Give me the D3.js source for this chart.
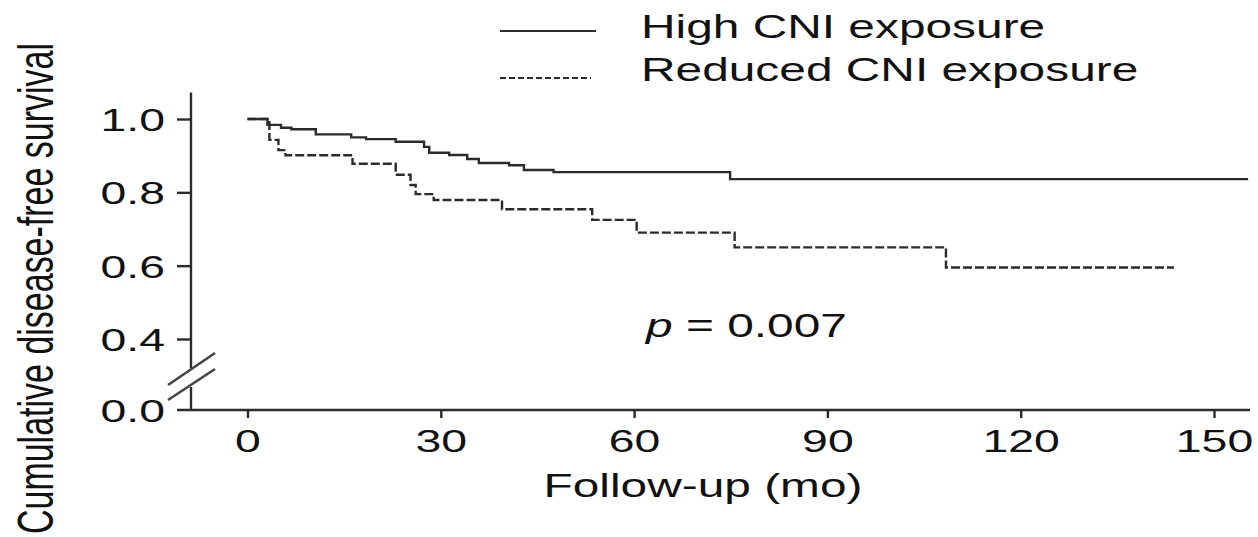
<!DOCTYPE html>
<html>
<head>
<meta charset="utf-8">
<script src="https://cdn.jsdelivr.net/npm/d3@7"></script>
<style>
  html, body { margin: 0; padding: 0; background: #fff; }
  svg { display: block; }
  text { font-family: "Liberation Sans", Arial, Helvetica, sans-serif; fill: #111; }
</style>
</head>
<body>
<svg id="chart" width="1258" height="537"></svg>
<script>
// Kaplan–Meier step data (months, survival proportion)
const highTimes = [0, 3.1, 5.2, 6.8, 10.6, 16.1, 18.4, 23.0, 27.4, 28.2, 31.3, 34.1, 35.9, 40.6, 42.9, 47.5, 74.9];
const highSurv  = [1.0, 0.984, 0.976, 0.972, 0.958, 0.950, 0.945, 0.938, 0.924, 0.908, 0.902, 0.891, 0.880, 0.874, 0.861, 0.855, 0.836];
const highEnd = 155.3;

const reducedTimes = [0, 3.4, 4.8, 5.9, 16.3, 23.0, 25.3, 26.1, 28.9, 39.5, 53.5, 60.4, 75.6, 108.4];
const reducedSurv  = [1.0, 0.943, 0.915, 0.901, 0.878, 0.848, 0.820, 0.795, 0.779, 0.754, 0.725, 0.690, 0.650, 0.595];
const reducedEnd = 143.8;

const xTicks = [0, 30, 60, 90, 120, 150];
const yTicks = [0.4, 0.6, 0.8, 1.0];
const yLowTicks = [0.0];

const seriesNames = ["High CNI exposure", "Reduced CNI exposure"];
const pLabel = "0.007";

const SX = 1.45;          // horizontal glyph stretch
const ink = "#2b2b2b";

const svg = d3.select("#chart");

// scales
const x = d3.scaleLinear().domain([0, 150]).range([247.5, 1214]);
const y = d3.scaleLinear().domain([0.4, 1.0]).range([339, 119]);
// lower stub below the axis break
const yLow = d3.scaleLinear().domain([0, 0.4]).range([410, 339]);

const axisX = 191;
const yTop = y(1.072);
const breakUpper = 368, breakLower = 387;

function stretchText(sel) {
  sel.each(function () {
    const t = d3.select(this);
    const xv = +t.attr("x") || 0;
    t.attr("x", xv / SX).attr("transform", `scale(${SX},1)`);
  });
}

// y axis line (broken)
svg.append("line").attr("x1", axisX).attr("x2", axisX).attr("y1", yTop).attr("y2", breakUpper)
  .attr("stroke", ink).attr("stroke-width", 2.4);
svg.append("line").attr("x1", axisX).attr("x2", axisX).attr("y1", breakLower).attr("y2", yLow(0))
  .attr("stroke", ink).attr("stroke-width", 2.4);

// break marks
[[168, 385, 215, 353], [168, 400, 215, 369]].forEach(([x1, y1, x2, y2]) => {
  svg.append("line").attr("x1", x1).attr("y1", y1).attr("x2", x2).attr("y2", y2)
    .attr("stroke", "#444").attr("stroke-width", 2.6);
});

// y ticks
const yAxisG = svg.append("g").attr("transform", `translate(${axisX},0)`)
  .call(d3.axisLeft(y).tickValues(yTicks).tickSize(14).tickFormat(d3.format(".1f")));
yAxisG.select(".domain").remove();
yAxisG.selectAll(".tick line").attr("stroke", ink).attr("stroke-width", 2.4);
yAxisG.selectAll(".tick text").attr("x", -26).attr("dy", "0.36em")
  .style("font-size", "32px").style("fill", "#111").call(stretchText);

// lower label (0.0) sits on the x axis line
const yLowG = svg.append("g").attr("transform", `translate(${axisX},0)`)
  .call(d3.axisLeft(yLow).tickValues(yLowTicks).tickSize(0).tickFormat(d3.format(".1f")));
yLowG.select(".domain").remove();
yLowG.selectAll(".tick text").attr("x", -26).attr("dy", "0.36em")
  .style("font-size", "32px").style("fill", "#111").call(stretchText);

// x axis
svg.append("line").attr("x1", 177).attr("x2", 1250).attr("y1", yLow(0)).attr("y2", yLow(0))
  .attr("stroke", ink).attr("stroke-width", 2.4);
const xAxisG = svg.append("g").attr("transform", `translate(0,${yLow(0)})`)
  .call(d3.axisBottom(x).tickValues(xTicks).tickSize(8));
xAxisG.select(".domain").remove();
xAxisG.selectAll(".tick line").attr("stroke", ink).attr("stroke-width", 2.4);
xAxisG.selectAll(".tick text").attr("y", 42).attr("dy", 0)
  .style("font-size", "32px").style("fill", "#111").call(stretchText);

// survival curves
function stepPoints(times, surv, end) {
  const pts = times.map((t, i) => [t, surv[i]]);
  pts.push([end, surv[surv.length - 1]]);
  return pts;
}
const line = d3.line().x(d => x(d[0])).y(d => y(d[1])).curve(d3.curveStepAfter);

svg.append("path").datum(stepPoints(reducedTimes, reducedSurv, reducedEnd))
  .attr("d", line).attr("fill", "none").attr("stroke", ink)
  .attr("stroke-width", 2.4).attr("stroke-dasharray", "9,3");
svg.append("path").datum(stepPoints(highTimes, highSurv, highEnd))
  .attr("d", line).attr("fill", "none").attr("stroke", ink).attr("stroke-width", 2.4);

// horizontal text helper
function label(txt, cx, cy, size, anchor) {
  const g = svg.append("g").attr("transform", `translate(${cx},${cy}) scale(${SX},1)`);
  const t = g.append("text").attr("text-anchor", anchor || "start").style("font-size", size + "px");
  return t.text(txt);
}

// legend
svg.append("line").attr("x1", 500).attr("x2", 596).attr("y1", 31).attr("y2", 31)
  .attr("stroke", ink).attr("stroke-width", 2.2);
svg.append("line").attr("x1", 500).attr("x2", 591).attr("y1", 78).attr("y2", 78)
  .attr("stroke", ink).attr("stroke-width", 2.2).attr("stroke-dasharray", "6,3");
label(seriesNames[0], 641, 38, 33);
label(seriesNames[1], 641, 81, 33);

// p value
const pT = svg.append("g").attr("transform", `translate(646,337) scale(${SX},1)`)
  .append("text").style("font-size", "33px");
pT.append("tspan").style("font-style", "italic").text("p");
pT.append("tspan").text(" = " + pLabel);

// axis titles
label("Follow-up (mo)", 703, 497, 33, "middle");
svg.append("g").attr("transform", `translate(53,288.5) scale(${SX},1) rotate(-90)`)
  .append("text").attr("text-anchor", "middle").style("font-size", "34px")
  .text("Cumulative disease-free survival");
</script>
</body>
</html>
